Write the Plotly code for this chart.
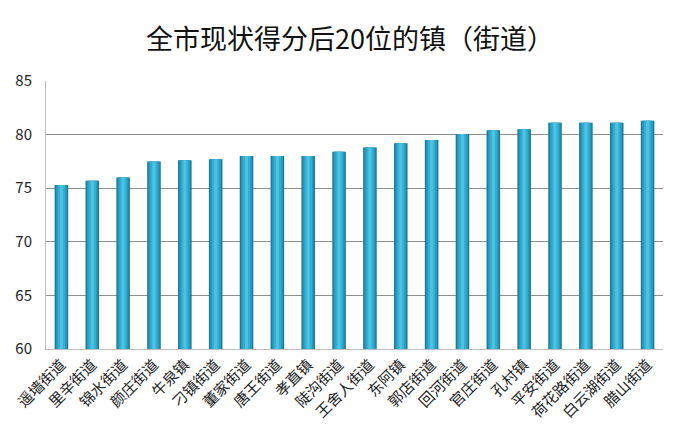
import plotly.graph_objects as go

categories = ["遥墙街道", "里辛街道", "锦水街道", "颜庄街道", "牛泉镇", "刁镇街道", "董家街道",
              "唐王街道", "孝直镇", "陡沟街道", "王舍人街道", "东阿镇", "郭店街道", "回河街道",
              "官庄街道", "孔村镇", "平安街道", "荷花路街道", "白云湖街道", "腊山街道"]
scores = [75.3, 75.7, 76.0, 77.5, 77.6, 77.7, 78.0, 78.0, 78.0, 78.4,
          78.8, 79.2, 79.5, 80.05, 80.4, 80.5, 81.1, 81.1, 81.1, 81.3]
y_ticks = [60, 65, 70, 75, 80, 85]

n = len(categories)
fig = go.Figure()
# layered bars to imitate the cylinder shading
layers = [(0.44, "#1c7893"), (0.36, "#2898ba"), (0.24, "#35aed3"), (0.10, "#4cc3e3")]
for w, c in layers:
    fig.add_trace(go.Bar(x=categories, y=scores, width=[w] * n, marker=dict(color=c, line=dict(width=0)),
                         base=0, hoverinfo="skip", showlegend=False))

fig.update_layout(
    width=700, height=437,
    margin=dict(l=41, r=37, t=81, b=88),
    paper_bgcolor="white", plot_bgcolor="white",
    barmode="overlay",
    title=dict(text="全市现状得分后20位的镇（街道）", x=0.5, xanchor="center", y=0.91, yanchor="middle",
               font=dict(family="Noto Sans CJK SC", size=27, color="#111111")),
    font=dict(family="Noto Sans CJK SC", color="#222222"),
    xaxis=dict(tickangle=-45, tickfont=dict(size=15, color="#222222"), showline=True, linecolor="#bdbdbd",
               linewidth=1, ticks="", showgrid=False),
    yaxis=dict(range=[60, 85], tickvals=y_ticks, tickfont=dict(size=15, color="#222222"), showline=True,
               linecolor="#bdbdbd", linewidth=1, showgrid=True, gridcolor="#8f8f8f", gridwidth=1,
               ticks="", zeroline=False, ticklabelstandoff=10),
)
fig.write_html("out.html")
